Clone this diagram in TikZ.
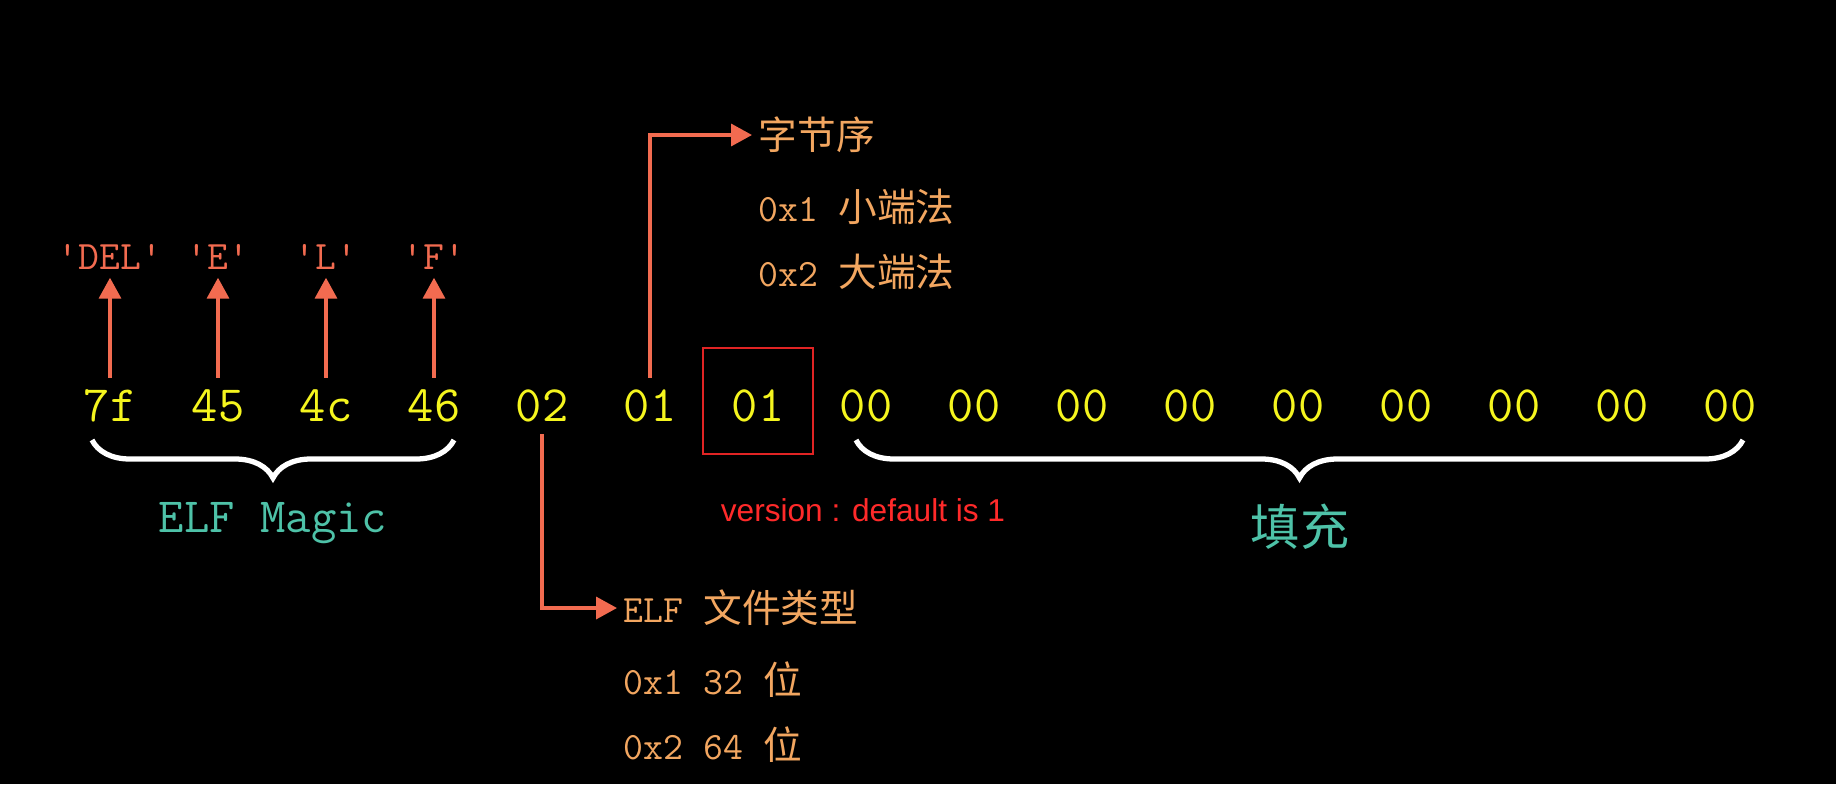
\documentclass[tikz,border=0pt]{standalone}
\usepackage{fontspec}
\usepackage{tikz}
\usetikzlibrary{arrows.meta,decorations.pathreplacing}
\newfontfamily\cjk{Noto Sans CJK SC}
\newfontfamily\latinsans{Liberation Sans}
\definecolor{hexyellow}{HTML}{F5F51E}
\definecolor{arrowred}{HTML}{F26B50}
\definecolor{labelteal}{HTML}{4EC2A8}
\definecolor{noteorange}{HTML}{F2A660}
\definecolor{boxred}{HTML}{E02424}
\definecolor{versionred}{HTML}{FF2A2A}

\begin{document}
\begin{tikzpicture}[>={Triangle[length=0.21cm,width=0.22cm]},
		byte/.style={text=hexyellow, font=\ttfamily\fontsize{14.5}{17}\selectfont, inner sep=0.12cm, text height=0.31cm, text depth=0pt},
		ascii/.style={text=arrowred, font=\ttfamily\fontsize{11.5}{13}\selectfont, inner sep=0.08cm, text height=0.22cm, text depth=0pt},
		pointer/.style={->, draw=arrowred, line width=1pt},
		note/.style={text=noteorange, font=\ttfamily\fontsize{11}{13}\selectfont, anchor=west, inner sep=0.06cm},
		group/.style={text=labelteal, font=\ttfamily\fontsize{14}{16}\selectfont},
		bracket/.style={draw=white, line width=1.5pt, decorate, decoration={brace, amplitude=0.38cm}}]
		% background
		\fill[black] (0,0) rectangle (18.36,7.84);
		\useasboundingbox (0,0) rectangle (18.36,7.84);
		
		% bytes
		\foreach \v [count=\i] in {7f,45,4c,46,02,01,01,00,00,00,00,00,00,00,00,00}
			\node[byte] (b\i) at ({1.10+1.08*(\i-1)},3.78) {\v};
		
		% magic characters
		\foreach \c [count=\i] in {'DEL','E','L','F'} {
			\node[ascii] (l\i) at ({1.10+1.08*(\i-1)},5.26) {\c};
			\draw[pointer] (b\i.north) -- (l\i.south);
		}
		
		% byte order
		\node[note] (endian) at (7.52,6.49) {{\cjk 字节序}};
		\node[note] (little) at (7.52,5.77) {0x1 {\cjk 小端法}};
		\node[note] (big) at (7.52,5.12) {0x2 {\cjk 大端法}};
		\draw[pointer] (b6.north) |- (endian.west);
		
		% file class
		\node[note] (class) at (6.17,1.76) {ELF {\cjk 文件类型}};
		\node[note] (bit32) at (6.17,1.04) {0x1 32 {\cjk 位}};
		\node[note] (bit64) at (6.17,0.39) {0x2 64 {\cjk 位}};
		\draw[pointer] (b5.south) |- (class.west);
		
		% version
		\draw[boxred, line width=0.6pt] ([shift={(-0.55,-0.48)}]b7.center) rectangle ([shift={(0.55,0.58)}]b7.center);
		\node[text=versionred, font=\latinsans\fontsize{9}{11}\selectfont] (version) at (8.63,2.74) {version : default is 1};
		
		% braces
		\draw[bracket] (4.54,3.44) -- (0.92,3.44);
		\node[group] (magic) at (2.73,2.61) {ELF Magic};
		\draw[bracket] (17.43,3.44) -- (8.56,3.44);
		\node[group, font=\cjk\fontsize{14}{16}\selectfont] (padding) at (13.00,2.57) {填充};
	\end{tikzpicture}
\end{document}
